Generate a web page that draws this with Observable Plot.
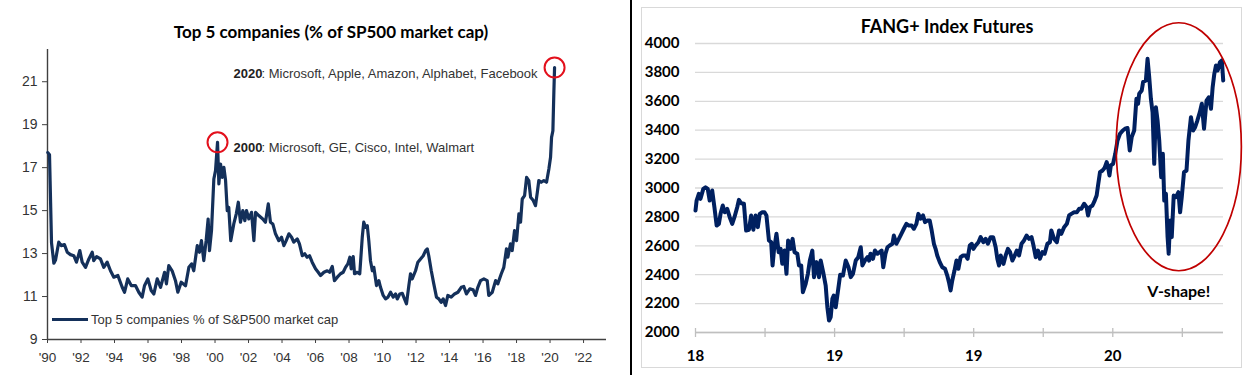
<!DOCTYPE html>
<html>
<head>
<meta charset="utf-8">
<script src="https://cdn.jsdelivr.net/npm/d3@7"></script>
<script src="https://cdn.jsdelivr.net/npm/@observablehq/plot@0.6"></script>
<style>
html,body{margin:0;padding:0;background:#fff;}
#wrap{position:relative;width:1248px;height:375px;overflow:hidden;background:#fff;}
.abs{position:absolute;}
#divider{left:630px;top:0;width:1.5px;height:375px;background:#000;}
#frame{left:641px;top:7px;width:601px;height:361px;border:1px solid #d9d9d9;box-sizing:border-box;}
#ltitle{left:0;width:662px;top:23px;text-align:center;font:bold 17px Lato, "Open Sans", sans-serif;line-height:17px;color:#000;white-space:nowrap;}
#rtitle{left:641px;width:612px;top:17px;text-align:center;font:bold 18px Lato, "Open Sans", sans-serif;line-height:18px;color:#000;white-space:nowrap;}
#legend{left:52px;top:311px;height:16px;display:flex;align-items:center;font:13px "Liberation Sans", Arial, sans-serif;color:#333;white-space:nowrap;}
#legend .sw{display:inline-block;width:36px;height:3px;background:#14305a;margin-right:3px;}
#left{left:0;top:0;}
#right{left:632px;top:0;}
</style>
</head>
<body>
<div id="wrap">
  <div id="frame" class="abs"></div>
  <div id="left" class="abs"></div>
  <div id="right" class="abs"></div>
  <div id="divider" class="abs"></div>
  <div id="ltitle" class="abs"></div>
  <div id="rtitle" class="abs"></div>
  <div id="legend" class="abs"><span class="sw"></span><span id="legendText"></span></div>
</div>
<script>
// ---------- Left chart: Top 5 companies (% of S&P500 market cap) ----------
const leftTitle = "Top 5 companies (% of SP500 market cap)";
const leftLegend = "Top 5 companies % of S&P500 market cap";
const top5Year = [1990.02,1990.12,1990.24,1990.38,1990.48,1990.67,1990.82,1991.01,1991.18,1991.37,1991.57,1991.73,1991.93,1992.07,1992.27,1992.47,1992.67,1992.76,1992.93,1993.16,1993.36,1993.56,1993.76,1993.96,1994.20,1994.46,1994.60,1994.79,1995.00,1995.25,1995.45,1995.65,1995.79,1995.99,1996.19,1996.35,1996.55,1996.75,1996.99,1997.10,1997.24,1997.44,1997.64,1997.78,1997.98,1998.24,1998.44,1998.60,1998.73,1998.94,1999.07,1999.19,1999.33,1999.47,1999.59,1999.67,1999.79,1999.93,2000.03,2000.15,2000.23,2000.33,2000.43,2000.53,2000.63,2000.73,2000.82,2000.94,2001.12,2001.27,2001.39,2001.52,2001.66,2001.78,2001.88,2002.02,2002.18,2002.32,2002.42,2002.61,2002.85,2003.01,2003.18,2003.31,2003.45,2003.61,2003.81,2003.97,2004.11,2004.25,2004.41,2004.57,2004.70,2004.91,2005.04,2005.21,2005.36,2005.50,2005.64,2005.80,2006.00,2006.16,2006.30,2006.50,2006.70,2006.84,2007.00,2007.13,2007.30,2007.49,2007.65,2007.79,2007.93,2008.05,2008.13,2008.25,2008.33,2008.49,2008.64,2008.79,2008.88,2008.99,2009.09,2009.18,2009.28,2009.39,2009.48,2009.64,2009.78,2009.88,2010.04,2010.18,2010.32,2010.48,2010.64,2010.78,2010.88,2011.03,2011.18,2011.31,2011.43,2011.57,2011.67,2011.77,2011.97,2012.11,2012.27,2012.43,2012.57,2012.67,2012.76,2012.91,2013.06,2013.22,2013.36,2013.50,2013.62,2013.76,2013.90,2014.10,2014.30,2014.50,2014.70,2014.85,2015.01,2015.21,2015.41,2015.55,2015.69,2015.85,2016.05,2016.25,2016.34,2016.55,2016.75,2016.88,2017.09,2017.24,2017.40,2017.48,2017.64,2017.74,2017.88,2018.00,2018.14,2018.24,2018.34,2018.48,2018.60,2018.73,2018.84,2019.00,2019.13,2019.24,2019.33,2019.47,2019.63,2019.79,2019.93,2020.03,2020.09,2020.17,2020.23,2020.27];
const top5Value = [17.7,17.6,13.5,12.55,12.7,13.53,13.37,13.42,13.06,12.95,12.9,12.6,13.14,12.6,12.36,12.75,13.06,12.67,12.86,12.75,12.36,12.6,12.2,11.9,11.98,11.43,11.2,11.82,11.51,11.51,11.2,10.97,11.5,11.82,11.28,11.12,11.82,11.43,12.13,11.59,12.44,12.2,11.74,11.2,11.67,11.5,12.36,12.52,12.2,13.37,13.06,13.6,12.67,13.6,14.61,13.14,14.07,16.47,16.86,18.18,16.24,17.17,16.55,17.01,16.4,15.0,15.15,13.6,14.38,14.85,15.39,14.46,15.0,14.53,15.0,14.61,14.92,13.6,14.92,14.77,14.61,14.46,15.31,14.46,14.38,13.92,13.6,13.76,13.37,13.6,13.92,13.76,13.53,13.68,13.45,12.9,12.99,12.83,12.9,12.6,12.29,12.13,11.98,12.13,12.2,12.13,12.4,11.74,11.9,12.06,12.13,12.36,12.52,12.83,12.29,12.86,12.06,12.13,12.06,13.76,14.46,14.22,14.3,13.6,12.67,12.2,12.36,11.51,11.74,11.43,11.05,10.89,10.97,11.2,10.97,11.12,10.89,11.12,11.15,10.89,10.66,11.51,12.06,11.82,12.2,12.6,12.75,12.9,13.14,13.22,12.9,12.2,11.59,10.97,10.89,10.73,10.89,10.58,11.05,10.97,11.12,11.2,11.43,11.47,11.12,11.36,11.31,11.05,11.43,11.74,11.82,11.74,11.05,11.2,11.74,11.59,12.06,12.36,13.22,12.83,13.45,13.14,14.07,13.6,14.85,14.46,15.54,15.7,16.55,16.4,15.62,15.47,15.23,15.85,16.4,16.32,16.4,16.32,16.94,17.48,18.41,18.72,20.58,21.66];
const leftXTicks = [1990,1992,1994,1996,1998,2000,2002,2004,2006,2008,2010,2012,2014,2016,2018,2020,2022];
const leftYTicks = [9,11,13,15,17,19,21];
const leftXDomain = [1990, 2023.37];
const leftYDomain = [9, 22.5];
const annoLabels = ["2000", "2020"];
const annoRest = [": Microsoft, GE, Cisco, Intel, Walmart", ": Microsoft, Apple, Amazon, Alphabet, Facebook"];

const top5 = top5Year.map((year, i) => ({year, value: top5Value[i]}));
const peak2000 = top5.filter(d => d.year < 2005).reduce((a, b) => (b.value > a.value ? b : a));
const last2020 = top5[top5.length - 1];
const highlights = [peak2000, last2020];
const annos = [
  {year: peak2000.year, value: peak2000.value, label: annoLabels[0], rest: annoRest[0]},
  {year: peak2000.year, value: last2020.value, label: annoLabels[1], rest: annoRest[1]}
];

const navyL = "#14305a";
const axisGray = "#404040";

const leftChart = Plot.plot({
  width: 630, height: 375,
  marginLeft: 47, marginRight: 24, marginTop: 49, marginBottom: 36,
  x: {domain: leftXDomain, label: null},
  y: {domain: leftYDomain, label: null},
  style: {fontFamily: '"Liberation Sans", Arial, sans-serif', background: "transparent", color: "#333"},
  marks: [
    Plot.ruleX([leftXDomain[0]], {y1: leftYDomain[0], y2: leftYDomain[1], stroke: axisGray, strokeWidth: 1.4}),
    Plot.ruleY([leftYDomain[0]], {stroke: axisGray, strokeWidth: 1.4}),
    Plot.axisY({ticks: leftYTicks, tickSize: 5, tickPadding: 5, fontSize: 14, stroke: axisGray, fill: "#333", label: null}),
    Plot.axisX({ticks: leftXTicks, tickSize: 4, tickPadding: 9, fontSize: 13.5, stroke: axisGray, fill: "#333", label: null,
      tickFormat: d => "'" + String(d).slice(2)}),
    Plot.line(top5, {x: "year", y: "value", stroke: navyL, strokeWidth: 3.2, strokeLinejoin: "round"}),
    Plot.dot(highlights, {x: "year", y: "value", r: 10, stroke: "#e3101c", strokeWidth: 2, fill: "none"}),
    Plot.text(annos, {x: "year", y: "value", text: "label", textAnchor: "start", dx: 16, dy: 6, fontWeight: "bold", fontSize: 13, fill: "#222"}),
    Plot.text(annos, {x: "year", y: "value", text: "rest", textAnchor: "start", dx: 44, dy: 6, fontSize: 13, fill: "#333"})
  ]
});
document.getElementById("left").appendChild(leftChart);
document.getElementById("ltitle").textContent = leftTitle;
document.getElementById("legendText").textContent = leftLegend;

// ---------- Right chart: FANG+ Index Futures ----------
const rightTitle = "FANG+ Index Futures";
const fangYear = [2018.500,2018.504,2018.512,2018.518,2018.528,2018.536,2018.544,2018.551,2018.560,2018.568,2018.576,2018.584,2018.590,2018.598,2018.605,2018.614,2018.623,2018.632,2018.640,2018.650,2018.656,2018.664,2018.674,2018.682,2018.692,2018.700,2018.708,2018.716,2018.724,2018.731,2018.740,2018.748,2018.755,2018.764,2018.772,2018.777,2018.782,2018.791,2018.799,2018.806,2018.812,2018.820,2018.827,2018.833,2018.842,2018.849,2018.856,2018.866,2018.872,2018.880,2018.886,2018.896,2018.904,2018.911,2018.920,2018.926,2018.935,2018.944,2018.950,2018.959,2018.968,2018.974,2018.980,2018.986,2018.992,2018.997,2019.004,2019.013,2019.020,2019.030,2019.040,2019.050,2019.058,2019.066,2019.076,2019.085,2019.094,2019.100,2019.109,2019.118,2019.124,2019.129,2019.138,2019.145,2019.154,2019.162,2019.169,2019.175,2019.183,2019.190,2019.198,2019.208,2019.213,2019.222,2019.231,2019.240,2019.249,2019.258,2019.267,2019.277,2019.285,2019.294,2019.301,2019.309,2019.318,2019.325,2019.333,2019.342,2019.349,2019.357,2019.363,2019.369,2019.378,2019.387,2019.397,2019.405,2019.411,2019.417,2019.423,2019.431,2019.438,2019.445,2019.453,2019.462,2019.471,2019.478,2019.486,2019.493,2019.499,2019.507,2019.517,2019.525,2019.535,2019.543,2019.551,2019.561,2019.570,2019.579,2019.585,2019.591,2019.597,2019.607,2019.615,2019.623,2019.631,2019.639,2019.645,2019.655,2019.663,2019.672,2019.681,2019.690,2019.699,2019.708,2019.715,2019.723,2019.731,2019.738,2019.747,2019.755,2019.765,2019.774,2019.779,2019.789,2019.799,2019.807,2019.815,2019.825,2019.835,2019.843,2019.851,2019.861,2019.871,2019.879,2019.887,2019.897,2019.906,2019.911,2019.918,2019.927,2019.935,2019.942,2019.947,2019.954,2019.963,2019.971,2019.978,2019.983,2019.988,2019.993,2020.001,2020.009,2020.017,2020.026,2020.036,2020.044,2020.053,2020.061,2020.068,2020.077,2020.085,2020.091,2020.095,2020.104,2020.109,2020.119,2020.125,2020.131,2020.137,2020.143,2020.149,2020.155,2020.161,2020.167,2020.174,2020.180,2020.185,2020.191,2020.197,2020.201,2020.206,2020.212,2020.219,2020.227,2020.236,2020.242,2020.248,2020.256,2020.265,2020.272,2020.281,2020.289,2020.296,2020.304,2020.313,2020.320,2020.328,2020.337,2020.345,2020.353,2020.359,2020.365,2020.371,2020.377,2020.385,2020.392,2020.397];
const fangValue = [2844,2913,2960,2925,2994,3005,2994,2913,2983,2867,2740,2752,2821,2879,2832,2856,2798,2752,2798,2867,2918,2895,2891,2706,2711,2810,2711,2810,2729,2821,2832,2832,2810,2637,2625,2464,2567,2683,2556,2579,2475,2567,2406,2637,2579,2648,2556,2545,2464,2464,2279,2337,2406,2498,2567,2383,2487,2383,2498,2417,2325,2175,2083,2106,2233,2256,2175,2300,2400,2394,2498,2452,2383,2406,2498,2521,2590,2464,2498,2521,2498,2545,2510,2567,2545,2556,2567,2452,2545,2590,2602,2614,2671,2614,2648,2683,2718,2752,2740,2740,2718,2752,2821,2787,2810,2764,2775,2775,2706,2614,2579,2533,2487,2452,2441,2394,2348,2291,2360,2429,2498,2441,2521,2533,2533,2510,2602,2614,2579,2602,2625,2660,2625,2648,2614,2660,2660,2590,2510,2464,2533,2475,2533,2579,2556,2498,2521,2567,2533,2614,2637,2671,2648,2660,2602,2521,2567,2510,2556,2545,2614,2625,2706,2648,2625,2706,2683,2729,2752,2810,2821,2832,2832,2856,2856,2891,2867,2810,2867,2879,2913,2948,3017,3109,3121,3140,3179,3144,3087,3156,3167,3237,3329,3375,3398,3410,3415,3259,3352,3398,3617,3583,3652,3675,3733,3744,3894,3767,3617,3525,3167,3559,3467,3329,3075,3237,2913,2960,2660,2545,2775,2660,2948,2937,2971,2832,2937,3109,3121,3329,3490,3398,3421,3467,3525,3583,3410,3605,3628,3548,3698,3790,3848,3813,3871,3883,3744];
const fangYTicks = [2000,2200,2400,2600,2800,3000,3200,3400,3600,3800,4000];
const fangXTicks = [2018.5,2018.75,2019,2019.25,2019.5,2019.75,2020,2020.25];
const fangXLabels = ["18","","19","","19","","20",""];
const fangXDomain = [2018.5, 2020.398];
const fangYDomain = [2000, 4000];
const vShapeBox = {x1: 2020.014, x2: 2020.464, y1: 2424, y2: 4140};
const vLabel = [{year: 2020.237, value: 2284, text: "V-shape!"}];

const fang = fangYear.map((year, i) => ({year, value: fangValue[i]}));
const navyR = "#002060";

const rightChart = Plot.plot({
  width: 616, height: 375,
  marginLeft: 63, marginRight: 25, marginTop: 43, marginBottom: 43,
  x: {domain: fangXDomain, label: null},
  y: {domain: fangYDomain, label: null},
  style: {fontFamily: 'Lato, "Open Sans", sans-serif', background: "transparent", color: "#000"},
  marks: [
    Plot.gridY({ticks: fangYTicks, stroke: "#d9d9d9", strokeOpacity: 1, strokeWidth: 1.3}),
    Plot.ruleY([fangYDomain[0]], {stroke: "#bfbfbf", strokeWidth: 1.3}),
    Plot.ruleX(fangXTicks, {y1: fangYDomain[0], y2: fangYDomain[0], insetTop: -4, insetBottom: -5, stroke: "#bfbfbf", strokeWidth: 1.3}),
    Plot.axisY({ticks: fangYTicks, tickSize: 0, tickPadding: 16, fontSize: 15, fontWeight: "bold", fill: "#000", label: null,
      tickFormat: d => String(d)}),
    Plot.axisX({ticks: fangXTicks, tickSize: 0, tickPadding: 18, fontSize: 15, fontWeight: "bold", fill: "#000", label: null,
      tickFormat: d => fangXLabels[fangXTicks.indexOf(d)]}),
    Plot.line(fang, {x: "year", y: "value", stroke: navyR, strokeWidth: 4, strokeLinejoin: "round"}),
    Plot.text(vLabel, {x: "year", y: "value", text: "text", fontSize: 16, fontWeight: "bold", fill: "#000"})
  ]
});
// red ellipse highlighting the V-shape, placed through the chart's own scales
{
  const sx = rightChart.scale("x"), sy = rightChart.scale("y");
  const xa = sx.apply(vShapeBox.x1), xb = sx.apply(vShapeBox.x2);
  const ya = sy.apply(vShapeBox.y1), yb = sy.apply(vShapeBox.y2);
  d3.select(rightChart).append("ellipse")
    .attr("cx", (xa + xb) / 2).attr("cy", (ya + yb) / 2)
    .attr("rx", Math.abs(xb - xa) / 2).attr("ry", Math.abs(ya - yb) / 2)
    .attr("fill", "none").attr("stroke", "#c00000").attr("stroke-width", 1.7);
  d3.select(rightChart).style("overflow", "visible");
}
document.getElementById("right").appendChild(rightChart);
document.getElementById("rtitle").textContent = rightTitle;
</script>
</body>
</html>
